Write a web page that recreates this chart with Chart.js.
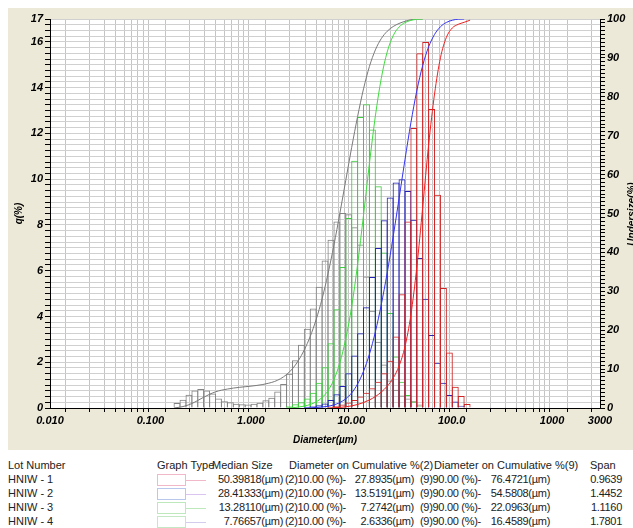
<!DOCTYPE html>
<html>
<head>
<meta charset="utf-8">
<script src="https://cdn.jsdelivr.net/npm/chart.js@4/dist/chart.umd.min.js"></script>
<style>
  html, body { margin: 0; padding: 0; background: #fff; }
  #wrap { position: relative; width: 633px; height: 528px; overflow: hidden; font-family: "Liberation Sans", Arial, sans-serif; }
  #psd { position: absolute; left: 0; top: 0; }
  .t { position: absolute; font-size: 11px; color: #222; white-space: nowrap; line-height: 13px; }
  .r { text-align: right; }
  .n { letter-spacing: -0.3px; }
  .box { position: absolute; width: 27px; height: 10px; border: 1px solid; }
  .ln { position: absolute; height: 1px; width: 20px; }
</style>
</head>
<body>
<div id="wrap">
  <canvas id="psd" width="633" height="452"></canvas>
  <div id="table"></div>
</div>
<script>
// bins (um): centres of the channels and their edges
const binCenters = [0.184, 0.211, 0.242, 0.277, 0.317, 0.363, 0.416, 0.476, 0.546, 0.625,
    0.716, 0.820, 0.939, 1.075, 1.232, 1.411, 1.616, 1.851, 2.120, 2.429,
    2.781, 3.185, 3.649, 4.179, 4.786, 5.482, 6.279, 7.192, 8.238, 9.436,
    10.81, 12.38, 14.18, 16.24, 18.60, 21.30, 24.40, 27.95, 32.01, 36.66,
    41.99, 48.09, 55.08, 63.09, 72.26, 82.77, 94.82, 108.6, 124.4, 142.5];
const binEdges = [0.172, 0.197, 0.226, 0.259, 0.296, 0.339, 0.389, 0.445, 0.510, 0.584,
    0.669, 0.766, 0.877, 1.005, 1.151, 1.318, 1.510, 1.729, 1.981, 2.269,
    2.599, 2.976, 3.409, 3.905, 4.472, 5.122, 5.867, 6.720, 7.697, 8.816,
    10.10, 11.56, 13.25, 15.17, 17.38, 19.90, 22.80, 26.11, 29.91, 34.26,
    39.23, 44.94, 51.47, 58.95, 67.52, 77.34, 88.58, 101.5, 116.2, 133.1, 152.5];

// q(%) per channel
const N = null;
const hniw1Freq = [N, N, N, N, N, N, N, N, N, N, N, N, N, N, N, N, N, N, N, N, N, N, N, N, N, N,
    0.06, 0.10, 0.15, 0.24, 0.35, 0.50, 0.67, 0.86, 1.15, 1.52, 2.07, 3.12, 4.97, 8.15,
    12.24, 15.5, 16.0, 13.07, 9.32, 5.24, 2.42, 0.93, 0.52, 0.18];
const hniw2Freq = [N, N, N, N, N, N, N, N, N, N, N, N, N, N, N, N, N, N, N, N, N, N,
    0.05, 0.08, 0.12, 0.20, 0.35, 0.60, 0.96, 1.52, 2.29, 3.27, 4.40, 5.72, 6.99, 8.20,
    9.20, 9.86, 10.0, 9.48, 8.23, 6.55, 4.77, 3.19, 1.98, 1.10, 0.57, 0.28, 0.10, N];
const hniw3Freq = [N, N, N, N, N, N, N, N, N, N, N, N, N, N, N, N, N, N, N,
    0.08, 0.16, 0.25, 0.42, 0.67, 1.10, 1.78, 2.83, 4.32, 6.16, 8.30,
    10.8, 12.72, 13.27, 12.17, 9.69, 6.80, 4.15, 2.25, 1.15, 0.57, 0.28, 0.08,
    N, N, N, N, N, N, N, N];
const hniw4Freq = [0.22, 0.36, 0.58, 0.77, 0.83, 0.77, 0.63, 0.42, 0.29, 0.25,
    0.19, 0.16, 0.15, 0.19, 0.23, 0.34, 0.45, 0.72, 1.05, 1.50,
    2.09, 2.76, 3.46, 4.35, 5.30, 6.45, 7.35, 8.15, 8.52, 8.47,
    7.90, 7.15, 5.75, 4.25, 2.90, 1.90, 1.20, 0.80, 0.55, 0.42, 0.30, 0.15,
    N, N, N, N, N, N, N, N];

// undersize (%) at each channel edge
const hniw1Cum = [N, N, N, N, N, N, N, N, N, N, N, N, N, N, N, N, N, N, N, N, N, N, N, N, N, N,
    0, 0.06, 0.16, 0.31, 0.55, 0.90, 1.40, 2.07, 2.93, 4.08, 5.60, 7.67, 10.79, 15.76,
    23.91, 36.15, 51.65, 67.65, 80.72, 90.04, 95.28, 97.70, 98.63, 99.15, 99.7];
const hniw2Cum = [N, N, N, N, N, N, N, N, N, N, N, N, N, N, N, N, N, N, N, N, N, N,
    0, 0.05, 0.13, 0.25, 0.45, 0.80, 1.40, 2.36, 3.88, 6.17, 9.44, 13.84, 19.56, 26.55,
    34.75, 43.95, 53.81, 63.81, 73.29, 81.52, 88.07, 92.84, 96.03, 98.01, 99.11, 99.68, 99.96, 100, N];
const hniw3Cum = [N, N, N, N, N, N, N, N, N, N, N, N, N, N, N, N, N, N, N,
    0, 0.08, 0.24, 0.49, 0.91, 1.58, 2.68, 4.46, 7.29, 11.61, 17.77, 26.07,
    36.87, 49.59, 62.86, 75.03, 84.72, 91.52, 95.67, 97.92, 99.07, 99.64, 99.92, 100,
    N, N, N, N, N, N, N, N];
const hniw4Cum = [0, 0.22, 0.58, 1.16, 1.93, 2.76, 3.53, 4.16, 4.58, 4.87,
    5.12, 5.31, 5.47, 5.62, 5.81, 6.04, 6.38, 6.83, 7.55, 8.60,
    10.10, 12.19, 14.95, 18.41, 22.76, 28.06, 34.51, 41.86, 50.01, 58.53,
    67.0, 74.9, 82.05, 87.8, 92.05, 94.95, 96.85, 98.05, 98.85, 99.4, 99.82, 100, 100,
    N, N, N, N, N, N, N, N];

// table under the chart
const lotNames = ['HNIW - 1', 'HNIW - 2', 'HNIW - 3', 'HNIW - 4'];
const medianSizes = ['50.39818', '28.41333', '13.28110', '7.76657'];
const d10Sizes = ['27.8935', '13.5191', '7.2742', '2.6336'];
const d90Sizes = ['76.4721', '54.5808', '22.0963', '16.4589'];
const spans = ['0.9639', '1.4452', '1.1160', '1.7801'];

// axis labels
const xTickValues = [0.01, 0.1, 1, 10, 100, 1000, 3000];
const xTickLabels = ['0.010', '0.100', '1.000', '10.00', '100.0', '1000', '3000'];
const qTickLabels = [0, 2, 4, 6, 8, 10, 12, 14, 16, 17];

const barColors = ['#d02424', '#2424b4', '#40cc40', '#848484'];
const lineColors = ['#f02020', '#3434f4', '#40dc40', '#7a7a7a'];
const swatchBox = ['#f0b8c8', '#b8c8ec', '#bce8bc', '#c4e8c4'];
const swatchLine = ['#f0b8c8', '#dcc4f0', '#bce8bc', '#d4ccec'];

const freqs = [hniw1Freq, hniw2Freq, hniw3Freq, hniw4Freq];
const cums = [hniw1Cum, hniw2Cum, hniw3Cum, hniw4Cum];

const datasets = [];
cums.forEach((c, k) => {
    datasets.push({
        type: 'line',
        label: lotNames[k] + ' cum',
        yAxisID: 'y2',
        data: binEdges.map((d, i) => ({ x: d, y: c[i] })).filter(p => p.y !== null),
        borderColor: lineColors[k],
        borderWidth: 1,
        pointRadius: 0,
        cubicInterpolationMode: 'monotone',
        fill: false,
        order: 0
    });
});
freqs.forEach((f, k) => {
    datasets.push({
        type: 'bar',
        label: lotNames[k],
        yAxisID: 'y',
        data: binCenters.map((d, i) => ({ x: d, y: f[i] })).filter(p => p.y !== null),
        borderColor: barColors[k],
        backgroundColor: 'rgba(0,0,0,0)',
        borderWidth: 1,
        inflateAmount: 0,
        grouped: false,
        barPercentage: 1,
        categoryPercentage: 1,
        order: 1
    });
});

// minor log grid: 1..9 per decade
const xGrid = [];
for (let e = -2; e <= 3; e++) {
    for (let k = 1; k <= 9; k++) {
        const v = k * Math.pow(10, e);
        if (v <= 3000 * 1.0001) xGrid.push(v);
    }
}

const tickFont = { family: '"Liberation Sans", Arial, sans-serif', size: 11, style: 'italic', weight: 'bold' };
const titleFont = { family: '"Liberation Sans", Arial, sans-serif', size: 10, style: 'italic', weight: 'bold' };

const paperBg = {
    id: 'paperBg',
    beforeDraw(chart) {
        const { ctx, chartArea: a } = chart;
        ctx.save();
        ctx.fillStyle = '#fff';
        ctx.fillRect(0, 0, chart.width, chart.height);
        ctx.fillStyle = '#ece9d8';
        ctx.fillRect(8, 8, chart.width - 8, 442);
        ctx.fillStyle = '#fff';
        ctx.fillRect(a.left, a.top, a.right - a.left, a.bottom - a.top);
        ctx.restore();
    },
    afterDraw(chart) {
        // right title is cut by the window edge, as in the original
        const ctx = chart.ctx;
        ctx.save();
        ctx.translate(632, 214);
        ctx.rotate(-Math.PI / 2);
        ctx.font = 'italic bold 10px "Liberation Sans", Arial, sans-serif';
        ctx.fillStyle = '#000';
        ctx.textAlign = 'center';
        ctx.textBaseline = 'middle';
        ctx.fillText('Undersize(%)', 0, 0);
        ctx.restore();
    }
};

const chart = new Chart(document.getElementById('psd').getContext('2d'), {
    type: 'bar',
    data: { datasets: datasets },
    options: {
        responsive: false,
        animation: false,
        devicePixelRatio: 1,
        layout: { padding: { left: 8, right: 0, top: 19, bottom: 0 } },
        plugins: { legend: { display: false }, tooltip: { enabled: false } },
        scales: {
            x: {
                type: 'logarithmic',
                position: 'bottom',
                min: 0.01,
                max: 3000,
                afterBuildTicks: s => { s.ticks = xGrid.map(v => ({ value: v })); },
                afterFit: s => { s.height = 44; },
                ticks: {
                    autoSkip: false, maxRotation: 0, minRotation: 0, padding: 2,
                    color: '#000', font: tickFont,
                    callback: v => {
                        const i = xTickValues.findIndex(t => Math.abs(t - v) / t < 1e-6);
                        return i >= 0 ? xTickLabels[i] : '';
                    }
                },
                grid: { color: '#c4c4c4', tickLength: 4, tickColor: '#000' },
                border: { color: '#000' },
                title: { display: true, text: 'Diameter(µm)', color: '#000', font: titleFont, padding: { top: 0, bottom: 6 } }
            },
            y: {
                position: 'left',
                min: 0,
                max: 17,
                afterBuildTicks: s => {
                    const t = [];
                    for (let i = 0; i <= 68; i++) t.push({ value: i / 4 });
                    s.ticks = t;
                },
                afterFit: s => { s.width = 42; },
                ticks: {
                    autoSkip: false, padding: 2, color: '#000', font: tickFont,
                    callback: v => qTickLabels.includes(v) ? String(v) : ''
                },
                grid: { color: '#d0d0d0', tickLength: 5, tickColor: '#000' },
                border: { color: '#000' },
                title: { display: true, text: 'q(%)', color: '#000', font: titleFont, padding: { top: 5, bottom: 0 } }
            },
            y2: {
                position: 'right',
                min: 0,
                max: 100,
                afterBuildTicks: s => {
                    const t = [];
                    for (let i = 0; i <= 100; i++) t.push({ value: i });
                    s.ticks = t;
                },
                afterFit: s => { s.width = 33; },
                ticks: {
                    autoSkip: false, padding: 2, color: '#000', font: tickFont,
                    callback: v => v % 10 === 0 ? String(v) : ''
                },
                grid: { drawOnChartArea: false, tickLength: 5, tickColor: '#000' },
                border: { color: '#000' }
            }
        }
    },
    plugins: [paperBg]
});

// Chart.js sizes non-grouped bars from the smallest tick gap (9 -> 10),
// so stretch them to one channel width (+1px so neighbouring borders share a line)
(function fitBars() {
    const xs = chart.scales.x;
    const binW = xs.getPixelForValue(binEdges[1]) - xs.getPixelForValue(binEdges[0]);
    let minGap = Infinity;
    const px = xs.ticks.map(t => xs.getPixelForValue(t.value));
    for (let i = 1; i < px.length; i++) minGap = Math.min(minGap, px[i] - px[i - 1]);
    binCenters.forEach((c, i) => {
        if (i > 0) minGap = Math.min(minGap, xs.getPixelForValue(c) - xs.getPixelForValue(binCenters[i - 1]));
    });
    chart.data.datasets.forEach(ds => {
        if (ds.type === 'bar') ds.barPercentage = (binW + 1) / minGap;
    });
    chart.update('none');
})();

// the result table
const table = document.getElementById('table');
function put(text, x, y, right, narrow) {
    const d = document.createElement('div');
    d.className = 't' + (right ? ' r' : '') + (narrow ? ' n' : '');
    d.textContent = text;
    d.style.top = (y - 7) + 'px';
    if (right) { d.style.right = (633 - x) + 'px'; } else { d.style.left = x + 'px'; }
    table.appendChild(d);
}
put('Lot Number', 8, 466);
put('Graph Type', 157, 466);
put('Median Size', 212, 466);
put('Diameter on Cumulative %(2)', 289, 466);
put('Diameter on Cumulative %(9)', 434, 466);
put('Span', 590, 466);
const rowY = [480, 494, 508, 522];
lotNames.forEach((name, k) => {
    const y = rowY[k];
    put(name, 8, y);
    const b = document.createElement('div');
    b.className = 'box';
    b.style.left = '157px';
    b.style.top = (y - 6) + 'px';
    b.style.borderColor = swatchBox[k];
    table.appendChild(b);
    const l = document.createElement('div');
    l.className = 'ln';
    l.style.left = '186px';
    l.style.top = y + 'px';
    l.style.background = swatchLine[k];
    table.appendChild(l);
    put(medianSizes[k] + '(µm)', 283, y, true, true);
    put('(2)10.00 (%)-', 285, y, false, true);
    put(d10Sizes[k] + '(µm)', 414, y, true, true);
    put('(9)90.00 (%)-', 420, y, false, true);
    put(d90Sizes[k] + '(µm)', 550, y, true, true);
    put(spans[k], 622, y, true, true);
});
</script>
</body>
</html>
